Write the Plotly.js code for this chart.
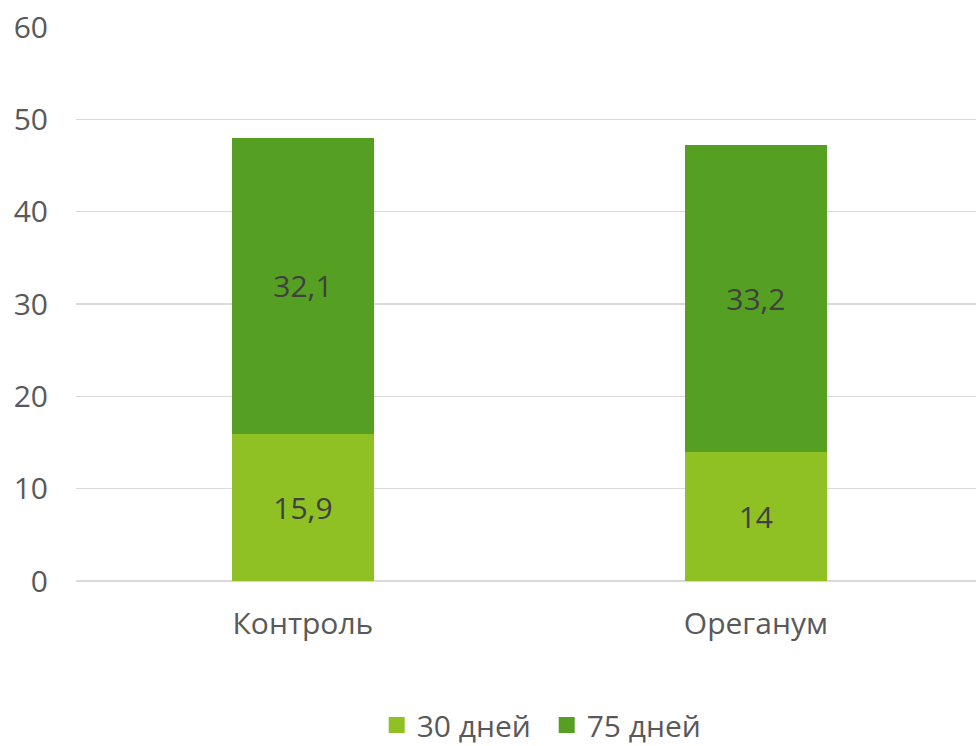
<!DOCTYPE html>
<html>
<head>
<meta charset="utf-8">
<script src="https://cdn.plot.ly/plotly-3.0.1.min.js"></script>
<style>html,body{margin:0;padding:0;background:#fff;}#chart{width:976px;height:746px;}</style>
</head>
<body>
<div id="chart"></div>
<script>
const categories = ["Контроль", "Ореганум"];
const series30 = [15.9, 14];
const series75 = [32.1, 33.2];
const seriesNames = ["30 дней", "75 дней"];
const labels30 = ["15,9", "14"];
const labels75 = ["32,1", "33,2"];
const colors = ["#8fc125", "#55a022"];

const FONT = "Open Sans, Noto Sans, sans-serif";
const common = {
  type: "bar",
  x: categories,
  width: 0.313,
  textposition: "inside",
  insidetextanchor: "middle",
  textfont: {family: FONT, size: 30, color: "#404040"},
  hoverinfo: "skip",
  showlegend: false
};
const data = [
  Object.assign({}, common, {name: seriesNames[0], y: series30, text: labels30, marker: {color: colors[0]}}),
  Object.assign({}, common, {name: seriesNames[1], y: series75, text: labels75, marker: {color: colors[1]}})
];
// legend entries with larger square symbols
seriesNames.forEach((n, i) => {
  data.push({
    type: "scatter", mode: "markers", name: n,
    x: [categories[0]], y: [null],
    marker: {symbol: "square", size: 16, color: colors[i]},
    hoverinfo: "skip", showlegend: true
  });
});
const layout = {
  width: 976, height: 746,
  barmode: "stack",
  margin: {l: 76, r: 0, t: 27, b: 165, autoexpand: false},
  paper_bgcolor: "#fff", plot_bgcolor: "#fff",
  font: {family: FONT, size: 30, color: "#595959"},
  xaxis: {
    range: [-0.501, 1.486],
    showgrid: false, zeroline: false, showline: false,
    ticks: "", ticklabelstandoff: 22, automargin: false,
    tickfont: {size: 30, color: "#595959"}
  },
  yaxis: {
    range: [0, 60], dtick: 10,
    showgrid: true, gridcolor: "#d9d9d9", gridwidth: 1.5,
    zeroline: true, zerolinecolor: "#d9d9d9", zerolinewidth: 1.5,
    showline: false, ticks: "", ticklabelstandoff: 27, automargin: false,
    tickfont: {size: 30, color: "#595959"}
  },
  showlegend: true,
  legend: {
    orientation: "h", x: 0.523, xanchor: "center", y: -0.26, yanchor: "middle",
    font: {size: 30, color: "#595959"}, itemwidth: 30, traceorder: "normal",
    itemsizing: "trace", entrywidth: 125, entrywidthmode: "pixels"
  }
};
Plotly.newPlot("chart", data, layout, {displayModeBar: false, staticPlot: true});
</script>
</body>
</html>
